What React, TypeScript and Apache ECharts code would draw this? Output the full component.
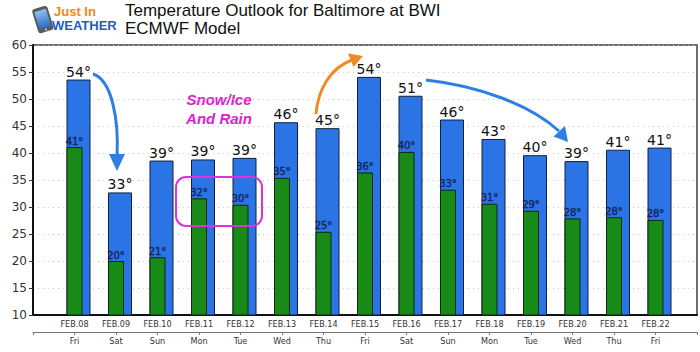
import React, { useEffect, useRef } from "react";
import * as echarts from "echarts";

const dates = ["FEB.08", "FEB.09", "FEB.10", "FEB.11", "FEB.12", "FEB.13", "FEB.14", "FEB.15", "FEB.16", "FEB.17", "FEB.18", "FEB.19", "FEB.20", "FEB.21", "FEB.22"];
const days = ["Fri", "Sat", "Sun", "Mon", "Tue", "Wed", "Thu", "Fri", "Sat", "Sun", "Mon", "Tue", "Wed", "Thu", "Fri"];
const highs = [53.6, 32.7, 38.6, 38.8, 39.1, 45.7, 44.6, 54.1, 50.6, 46.2, 42.6, 39.6, 38.5, 40.6, 41.0];
const lows = [41.1, 20.0, 20.7, 31.6, 30.4, 35.4, 25.4, 36.4, 40.2, 33.2, 30.6, 29.3, 27.9, 28.1, 27.6];
const yTicks = { min: 10, max: 60, step: 5 };
const titleLines = ["Temperature Outlook for Baltimore at BWI", "ECMWF Model"];
const noteLines = ["Snow/Ice", "And Rain"];

export default function App() {
  const ref = useRef<HTMLDivElement>(null);
  useEffect(() => {
    const chart = echarts.init(ref.current!, null, { renderer: "svg" });
    const pad = (a: any[]) => [null, ...a, null];
    const catDates = ["", ...dates, ""];
    const catDays = ["", ...days, ""];
    const axisFont = "'DejaVu Sans Condensed', 'DejaVu Sans', sans-serif";
    chart.setOption({
      animation: false,
      backgroundColor: "#ffffff",
      grid: {
        left: 33, right: 3, top: 45, bottom: 37,
        show: true, borderColor: "#6e6e6e", borderWidth: 2, backgroundColor: "transparent",
      },
      xAxis: [
        {
          type: "category", data: catDates, boundaryGap: false, position: "bottom",
          axisLine: { show: true, lineStyle: { color: "#111", width: 2 } },
          axisTick: { show: false },
          axisLabel: { interval: 0, margin: 4, fontSize: 9, color: "#333", fontFamily: axisFont },
          splitLine: { show: false },
        },
        {
          type: "category", data: catDays, boundaryGap: false, position: "bottom", offset: 17,
          axisLine: { show: true, lineStyle: { color: "#777", width: 1 } },
          axisTick: { show: true, length: 3, interval: 0, lineStyle: { color: "#777" } },
          axisLabel: { interval: 0, margin: 4, fontSize: 9, color: "#333", fontFamily: axisFont },
          splitLine: { show: false },
        },
      ],
      yAxis: {
        type: "value", min: yTicks.min, max: yTicks.max, interval: yTicks.step,
        axisLine: { show: true, lineStyle: { color: "#111", width: 2 } },
        axisTick: { show: true, length: 4, lineStyle: { color: "#333" } },
        axisLabel: { fontSize: 12, color: "#333", margin: 6, fontFamily: "'DejaVu Sans', sans-serif" },
        splitLine: { show: true, lineStyle: { color: "#c8c8c8", type: [1, 4], width: 1 } },
      },
      series: [
        {
          type: "bar", xAxisIndex: 0, data: pad(highs), barWidth: 24, barGap: "-100%",
          itemStyle: { color: "#2b74e6", borderColor: "#10203c", borderWidth: 1 },
          label: {
            show: true, position: "top", distance: 1, fontSize: 14, color: "#111",
            fontFamily: "'DejaVu Sans', sans-serif",
            formatter: (p: any) => Math.round(p.value) + "°",
          },
        },
        {
          type: "bar", xAxisIndex: 0, data: pad(lows), barWidth: 16, barGap: "-100%", z: 3,
          itemStyle: { color: "#178a17", borderColor: "#0e2a10", borderWidth: 1 },
          label: {
            show: true, position: "top", distance: 1,
            formatter: (p: any) => "{a|" + Math.round(p.value) + "°}",
            rich: {
              a: {
                fontSize: 10, color: "#13265a", fontFamily: "'DejaVu Sans', sans-serif",
                textBorderColor: "#13265a", textBorderWidth: 0.4,
              },
            },
          },
        },
      ],
      graphic: [
        // logo tablet
        {
          type: "group", x: 43, y: 20, rotation: 0.3,
          children: [
            { type: "rect", shape: { x: -8, y: -13, width: 16, height: 25, r: 3 }, style: { fill: "#5a5a5a" } },
            { type: "rect", shape: { x: -6, y: -10, width: 12, height: 18 },
              style: { fill: new echarts.graphic.LinearGradient(0, 0, 0, 1, [{ offset: 0, color: "#8fc0f0" }, { offset: 1, color: "#2a6cc0" }]) } },
            { type: "circle", shape: { cx: 0, cy: 10, r: 1 }, style: { fill: "#ccc" } },
          ],
        },
        { type: "text", x: 54, y: 11, style: { text: "Just In", fill: "#f0861a", font: "bold 13px 'Liberation Sans', Arial, sans-serif", verticalAlign: "middle" } },
        { type: "text", x: 52, y: 25.5, style: { text: "WEATHER", fill: "#1d5fb8", font: "bold 13px 'Liberation Sans', Arial, sans-serif", verticalAlign: "middle" } },
        // title
        { type: "text", x: 125, y: 2, style: { text: titleLines[0], fill: "#111", font: "17px 'Liberation Sans', Arial, sans-serif" } },
        { type: "text", x: 125, y: 20, style: { text: titleLines[1], fill: "#111", font: "17px 'Liberation Sans', Arial, sans-serif" } },
        // note
        { type: "text", x: 219, y: 99, style: { text: noteLines[0], fill: "#e020d0", font: "italic bold 15px 'Liberation Sans', Arial, sans-serif", align: "center", verticalAlign: "middle" } },
        { type: "text", x: 219, y: 118, style: { text: noteLines[1], fill: "#e020d0", font: "italic bold 15px 'Liberation Sans', Arial, sans-serif", align: "center", verticalAlign: "middle" } },
        { type: "rect", shape: { x: 176, y: 177, width: 86, height: 49, r: 10 }, style: { fill: "none", stroke: "#e030d8", lineWidth: 2 }, z: 100 },
        // arrows
        { type: "bezierCurve", shape: { x1: 93, y1: 74, cpx1: 112, cpy1: 80, cpx2: 119, cpy2: 120, x2: 117, y2: 157 }, style: { stroke: "#2f7ee6", lineWidth: 3, fill: "none" }, z: 100 },
        { type: "polygon", shape: { points: [[109, 154], [125, 154], [117, 171]] }, style: { fill: "#2f7ee6" }, z: 100 },
        { type: "bezierCurve", shape: { x1: 316, y1: 114, cpx1: 318, cpy1: 90, cpx2: 330, cpy2: 68, x2: 352, y2: 60 }, style: { stroke: "#f08a24", lineWidth: 3, fill: "none" }, z: 100 },
        { type: "polygon", shape: { points: [[348, 53.5], [353.5, 67], [363, 56]] }, style: { fill: "#f08a24" }, z: 100 },
        { type: "bezierCurve", shape: { x1: 426, y1: 80, cpx1: 480, cpy1: 86, cpx2: 530, cpy2: 105, x2: 559, y2: 131 }, style: { stroke: "#2f7ee6", lineWidth: 3, fill: "none" }, z: 100 },
        { type: "polygon", shape: { points: [[553.5, 136.5], [565, 126], [568, 142]] }, style: { fill: "#2f7ee6" }, z: 100 },
      ],
    });
    return () => chart.dispose();
  }, []);
  return <div ref={ref} style={{ width: 700, height: 352, position: "absolute", left: 0, top: 0 }} />;
}
